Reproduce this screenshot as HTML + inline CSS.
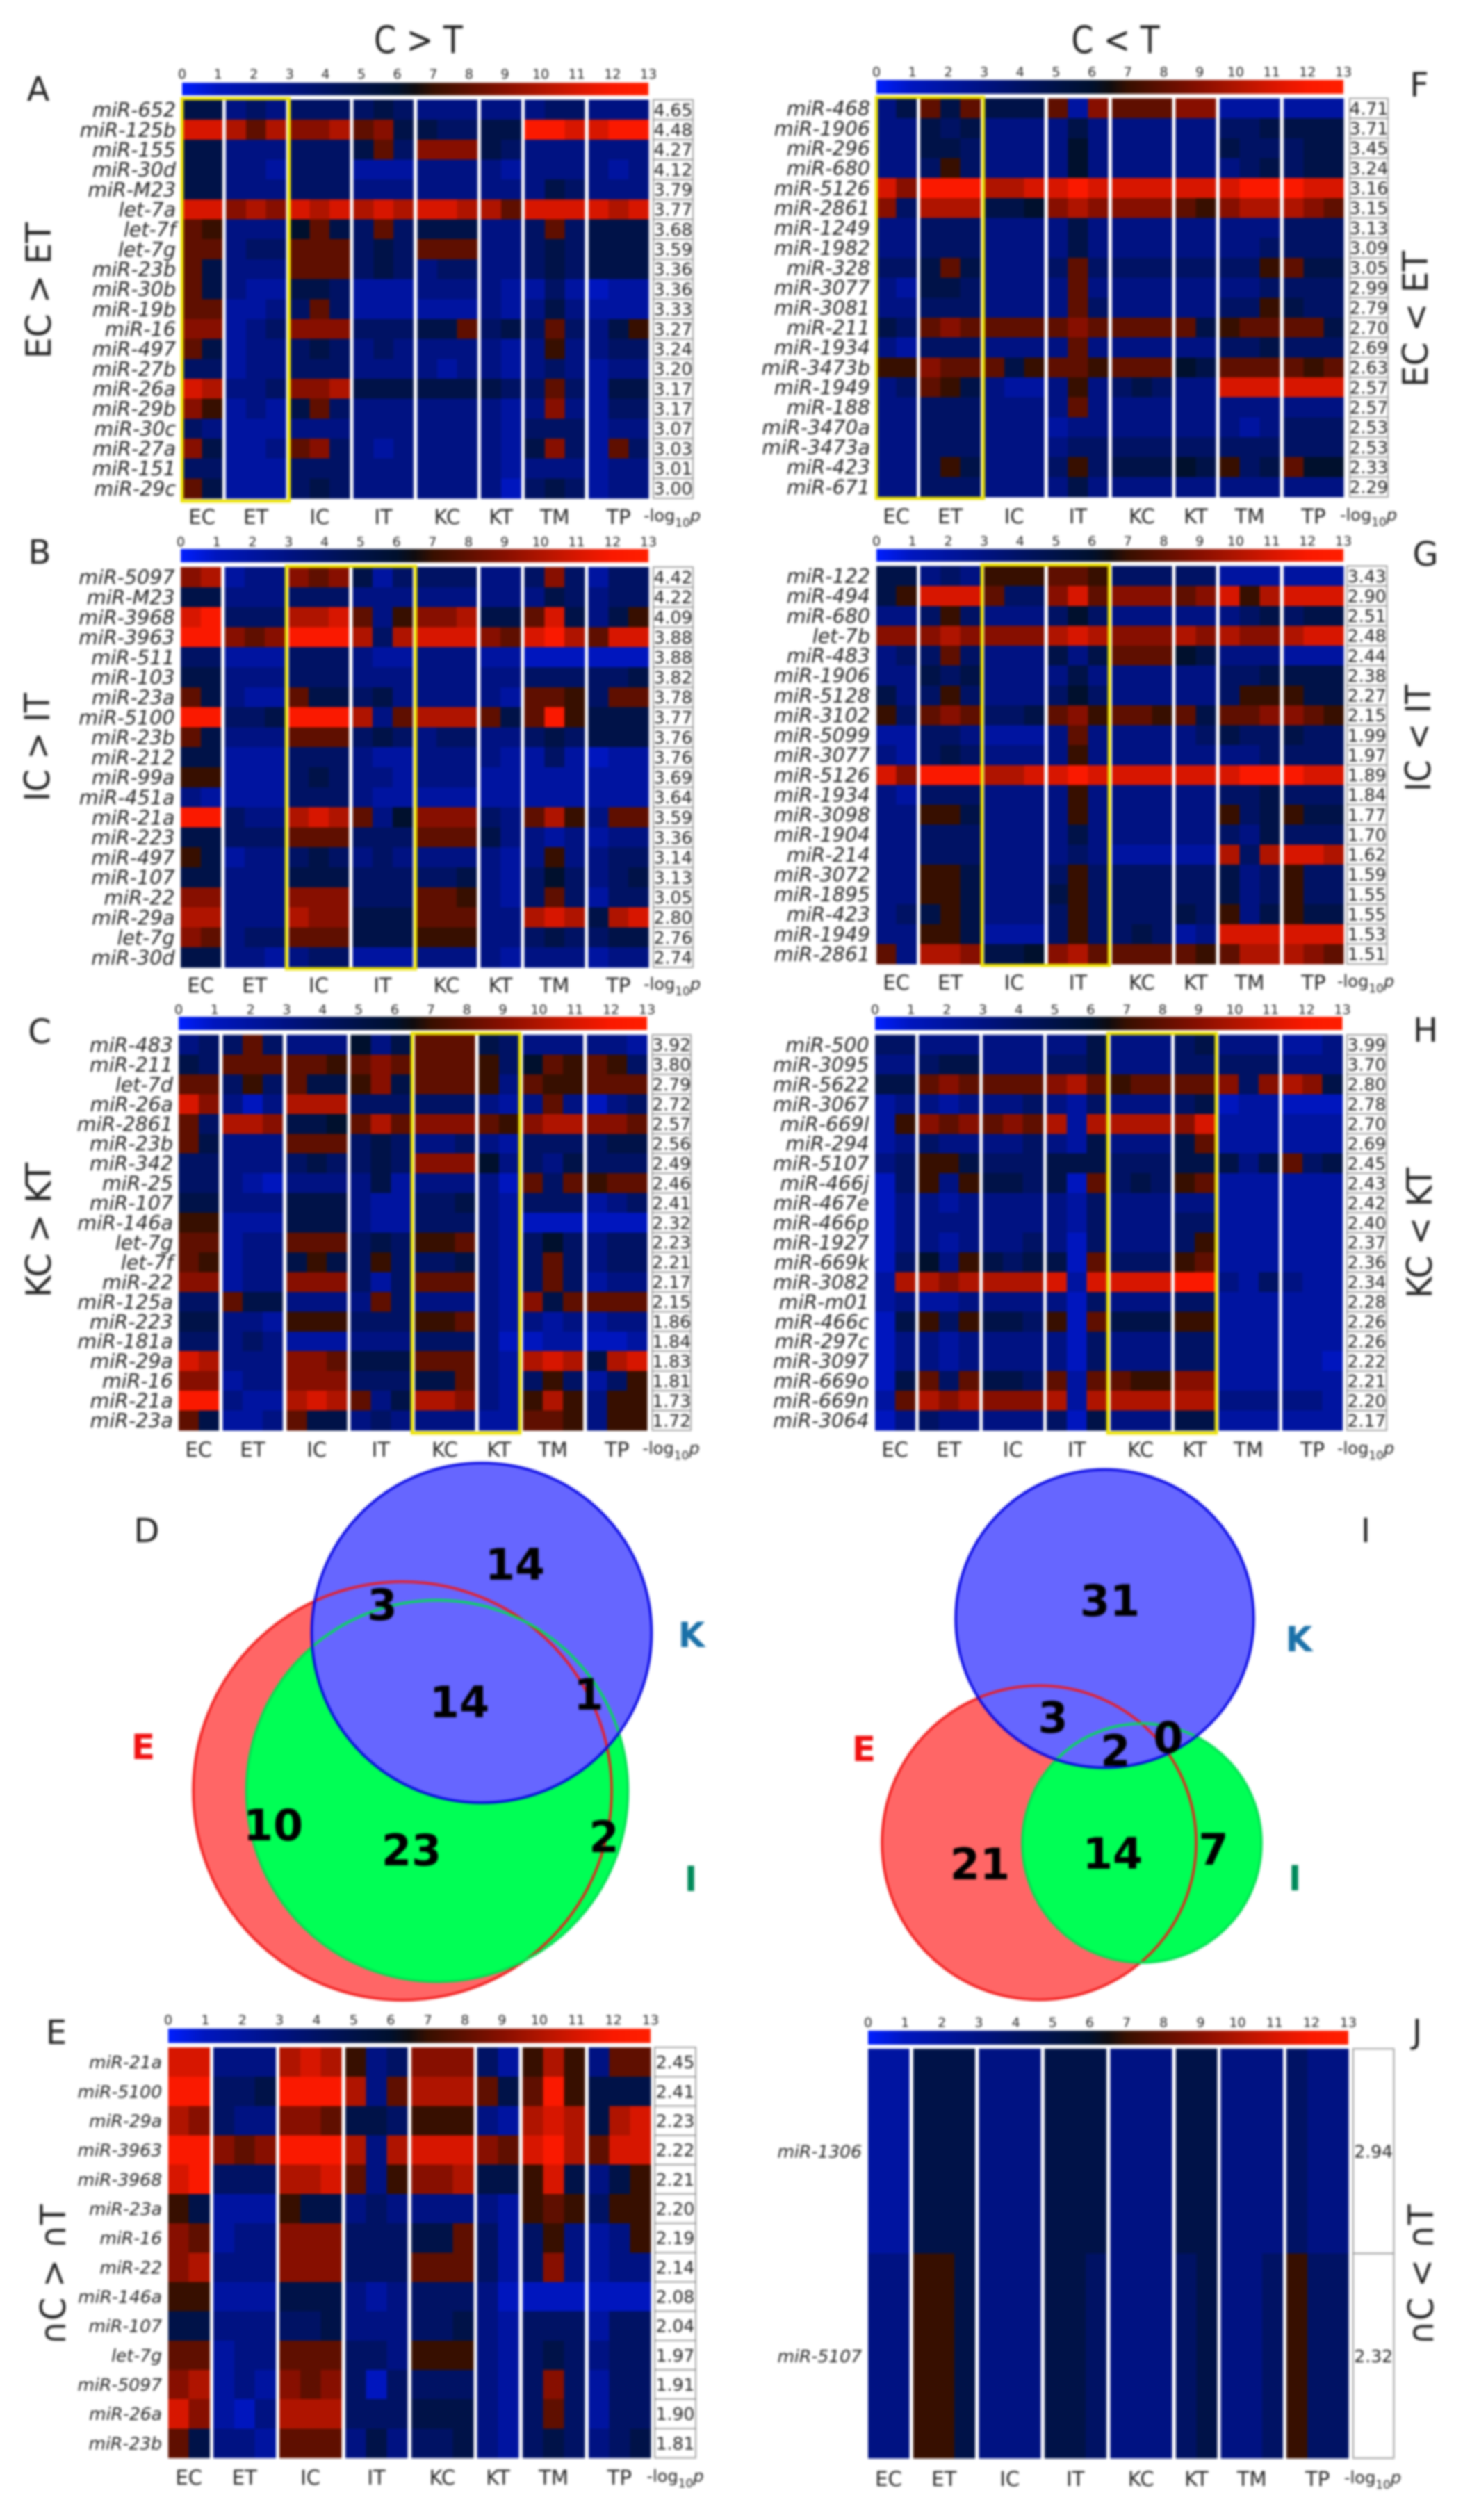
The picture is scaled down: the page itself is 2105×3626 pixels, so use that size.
<!DOCTYPE html>
<html lang="en">
<head>
<meta charset="utf-8">
<title>miRNA heatmaps and Venn diagrams</title>
<style>
html,body{margin:0;padding:0;background:#fff;}
#figure{display:block;filter:blur(1.6px);}
text{font-family:"DejaVu Sans","Liberation Sans",sans-serif;fill:#222;}
</style>
</head>
<body>
<svg id="figure" xmlns="http://www.w3.org/2000/svg" width="2105" height="3626" viewBox="0 0 2105 3626">
<defs>
<linearGradient id="cbGrad" x1="0" y1="0" x2="1" y2="0"></linearGradient>
</defs>
<rect x="0" y="0" width="2105" height="3626" fill="#fff"/>
<text x="602" y="76" font-size="54" text-anchor="middle" textLength="128" lengthAdjust="spacingAndGlyphs">C &gt; T</text>
<text x="1605" y="76" font-size="54" text-anchor="middle" textLength="127" lengthAdjust="spacingAndGlyphs">C &lt; T</text>

<g font-size="48" text-anchor="middle">
<text x="55" y="145">A</text>
<text x="2042" y="139">F</text>
<text x="57" y="811">B</text>
<text x="2051" y="814">G</text>
<text x="57" y="1501">C</text>
<text x="2051" y="1499">H</text>
<text x="211" y="2219">D</text>
<text x="1965" y="2219">I</text>
<text x="81" y="2941">E</text>
<text x="2039" y="2940">J</text>
</g>

<g font-size="50" text-anchor="middle">
<text transform="translate(73,418) rotate(-90)" textLength="196" lengthAdjust="spacingAndGlyphs">EC &gt; ET</text>
<text transform="translate(2054,459) rotate(-90)" textLength="196" lengthAdjust="spacingAndGlyphs">EC &lt; ET</text>
<text transform="translate(71,1075) rotate(-90)" textLength="156" lengthAdjust="spacingAndGlyphs">IC &gt; IT</text>
<text transform="translate(2058,1062) rotate(-90)" textLength="154" lengthAdjust="spacingAndGlyphs">IC &lt; IT</text>
<text transform="translate(73,1770) rotate(-90)" textLength="194" lengthAdjust="spacingAndGlyphs">KC &gt; KT</text>
<text transform="translate(2060,1774) rotate(-90)" textLength="188" lengthAdjust="spacingAndGlyphs">KC &lt; KT</text>
<text transform="translate(94,3273) rotate(-90)" textLength="202" lengthAdjust="spacingAndGlyphs">∩C &gt; ∩T</text>
<text transform="translate(2062,3273) rotate(-90)" textLength="202" lengthAdjust="spacingAndGlyphs">∩C &lt; ∩T</text>
</g>

<g>
<circle cx="579" cy="2577" r="301" fill="#ff6666"/>
<circle cx="629" cy="2577" r="274.5" fill="#00ff55"/>
<circle cx="693" cy="2349.5" r="244.5" fill="#6666ff"/>
<circle cx="579" cy="2577" r="301" fill="none" stroke="#f01818" stroke-width="3.5"/>
<circle cx="629" cy="2577" r="274.5" fill="none" stroke="#00e050" stroke-width="3.5"/>
<circle cx="693" cy="2349.5" r="244.5" fill="none" stroke="#0000e0" stroke-width="3.5"/>
<g font-size="62" font-weight="bold" text-anchor="middle">
<text x="741" y="2273" style="fill:#000">14</text>
<text x="550" y="2331" style="fill:#000">3</text>
<text x="661" y="2471" style="fill:#000">14</text>
<text x="847" y="2460" style="fill:#000">1</text>
<text x="393" y="2648" style="fill:#000">10</text>
<text x="592" y="2684" style="fill:#000">23</text>
<text x="869" y="2665" style="fill:#000">2</text>
</g>
<g font-size="50" font-weight="bold" text-anchor="middle">
<text x="206" y="2531" style="fill:#f01010">E</text>
<text x="995" y="2370" style="fill:#1a70a8">K</text>
<text x="994" y="2721" style="fill:#008a5a">I</text>
</g>
</g>

<g>
<circle cx="1495" cy="2651.5" r="226" fill="#ff6666"/>
<circle cx="1643" cy="2652" r="172" fill="#00ff55"/>
<circle cx="1589.5" cy="2329" r="214.5" fill="#6666ff"/>
<circle cx="1495" cy="2651.5" r="226" fill="none" stroke="#f01818" stroke-width="3.5"/>
<circle cx="1643" cy="2652" r="172" fill="none" stroke="#00e050" stroke-width="3.5"/>
<circle cx="1589.5" cy="2329" r="214.5" fill="none" stroke="#0000e0" stroke-width="3.5"/>
<g font-size="62" font-weight="bold" text-anchor="middle">
<text x="1597" y="2325" style="fill:#000">31</text>
<text x="1515" y="2493" style="fill:#000">3</text>
<text x="1605" y="2541" style="fill:#000">2</text>
<text x="1681" y="2522" style="fill:#000">0</text>
<text x="1410" y="2704" style="fill:#000">21</text>
<text x="1601" y="2689" style="fill:#000">14</text>
<text x="1746" y="2683" style="fill:#000">7</text>
</g>
<g font-size="50" font-weight="bold" text-anchor="middle">
<text x="1243" y="2534" style="fill:#f01010">E</text>
<text x="1869" y="2376" style="fill:#1a70a8">K</text>
<text x="1863" y="2720" style="fill:#008a5a">I</text>
</g>
</g>
<g id="heatmaps"></g>
</svg>

<script>
// ---- shared categories and tick labels ----
const groupNames = ["EC","ET","IC","IT","KC","KT","TM","TP"];
const groupSizes = [2,3,3,3,3,2,3,3];
const colorbarTicks = [0,1,2,3,4,5,6,7,8,9,10,11,12,13];

// ---- Panel A: EC > ET ----
const panelALabels = ["miR-652","miR-125b","miR-155","miR-30d","miR-M23","let-7a","let-7f","let-7g","miR-23b","miR-30b","miR-19b","miR-16","miR-497","miR-27b","miR-26a","miR-29b","miR-30c","miR-27a","miR-151","miR-29c"];
const panelAPvalues = ["4.65","4.48","4.27","4.12","3.79","3.77","3.68","3.59","3.36","3.36","3.33","3.27","3.24","3.20","3.17","3.17","3.07","3.03","3.01","3.00"];
const panelAValues = [
[5,5,3,4,3,4,4,4,4,5,4,3,3,3,3,3,3,4,4,3,3,3],
[11,11,10,8,10,9,9,10,8,9,5,5,4,4,5,5,12,12,11,11,12,12],
[5,5,3,3,3,4,4,4,5,8,4,9,9,9,5,4,3,3,3,3,3,3],
[5,5,3,3,2,4,4,4,2,2,2,3,3,3,3,2,3,3,3,3,2,3],
[5,5,3,3,3,4,4,4,3,3,3,3,3,3,3,3,3,5,4,3,3,3],
[11,11,9,10,9,11,10,11,10,11,10,11,11,10,10,8,11,11,11,11,10,11],
[8,7,3,3,3,6,8,5,4,8,4,5,5,5,3,3,4,8,4,5,5,5],
[8,8,3,4,4,8,8,8,4,5,4,8,8,8,3,3,4,5,4,5,5,5],
[8,5,3,3,3,8,8,8,4,5,4,3,4,4,3,3,4,5,4,5,5,5],
[8,5,3,2,2,5,5,4,2,2,2,3,3,3,3,2,2,4,2,1,2,2],
[8,8,2,2,3,4,8,4,2,2,2,2,2,2,3,2,3,5,3,2,2,2],
[9,9,2,3,4,9,9,9,4,4,4,5,5,8,4,5,4,8,4,3,5,7],
[8,5,2,3,3,4,5,4,3,4,3,3,3,3,3,2,3,7,3,3,4,4],
[4,4,2,3,3,4,4,4,3,3,3,3,2,3,3,2,3,4,3,2,3,3],
[11,10,3,3,4,9,9,10,5,5,5,5,5,5,5,4,4,8,4,2,5,5],
[9,7,2,3,2,5,8,4,3,3,3,3,3,3,3,2,3,9,3,2,4,4],
[4,3,2,2,2,3,3,3,3,3,3,3,3,3,3,2,4,4,4,2,3,3],
[9,5,2,2,3,8,9,4,3,2,3,3,3,3,3,2,5,9,4,2,8,4],
[4,4,2,2,2,4,4,4,3,3,3,3,3,3,3,2,3,3,3,2,3,3],
[8,5,2,2,2,4,5,4,3,3,3,3,3,3,3,1,4,5,4,2,3,3]
];

// ---- Panel B: IC > IT ----
const panelBLabels = ["miR-5097","miR-M23","miR-3968","miR-3963","miR-511","miR-103","miR-23a","miR-5100","miR-23b","miR-212","miR-99a","miR-451a","miR-21a","miR-223","miR-497","miR-107","miR-22","miR-29a","let-7g","miR-30d"];
const panelBPvalues = ["4.42","4.22","4.09","3.88","3.88","3.82","3.78","3.77","3.76","3.76","3.69","3.64","3.59","3.36","3.14","3.13","3.05","2.80","2.76","2.74"];
const panelBValues = [
[9,10,2,3,3,9,8,9,5,2,4,4,4,4,3,3,4,9,4,2,4,4],
[5,5,3,3,3,4,4,4,3,3,3,3,3,3,3,3,3,5,4,3,4,4],
[11,12,4,4,4,10,10,11,8,3,7,9,9,10,5,5,8,11,5,3,5,7],
[12,12,9,8,9,12,12,12,10,4,10,11,11,11,9,8,11,12,10,8,11,11],
[4,4,2,2,2,4,4,4,3,2,2,3,3,3,2,2,1,1,1,1,1,1],
[5,5,3,3,3,4,4,4,3,3,3,3,3,3,3,3,4,4,4,4,4,5],
[8,5,3,2,2,8,5,5,4,5,3,3,3,3,3,2,8,8,7,4,8,8],
[12,12,4,4,5,12,12,12,10,3,8,10,10,10,8,5,8,12,7,5,5,5],
[8,5,3,3,3,8,8,8,4,5,4,3,4,4,3,3,4,5,4,5,5,5],
[5,5,2,2,2,4,4,4,3,2,2,3,3,3,3,2,2,4,2,1,2,2],
[7,7,2,2,2,4,5,4,3,3,2,3,3,3,2,2,2,2,2,2,2,2],
[3,2,2,2,2,4,4,4,3,2,2,2,2,2,2,2,2,2,2,2,2,2],
[12,12,4,3,3,10,11,10,8,3,6,9,9,9,4,3,8,10,7,3,8,8],
[5,5,4,4,4,8,8,8,4,4,4,8,8,8,5,3,3,2,3,2,3,3],
[7,5,2,3,3,4,5,4,3,4,3,3,3,3,3,2,3,7,3,3,4,4],
[5,5,3,3,3,5,5,5,4,4,4,4,4,5,3,2,4,6,4,3,4,5],
[9,9,3,3,3,9,9,9,4,4,4,8,8,7,3,2,4,8,4,2,4,4],
[10,10,3,3,3,10,9,9,5,5,5,8,8,8,3,3,10,11,10,5,10,11],
[9,8,3,4,4,8,8,8,5,5,5,7,7,7,3,3,4,5,4,4,5,5],
[5,5,3,3,2,3,4,4,2,2,2,3,3,3,3,2,3,3,3,2,3,3]
];

// ---- Panel C: KC > KT ----
const panelCLabels = ["miR-483","miR-211","let-7d","miR-26a","miR-2861","miR-23b","miR-342","miR-25","miR-107","miR-146a","let-7g","let-7f","miR-22","miR-125a","miR-223","miR-181a","miR-29a","miR-16","miR-21a","miR-23a"];
const panelCPvalues = ["3.92","3.80","2.79","2.72","2.57","2.56","2.49","2.46","2.41","2.32","2.23","2.21","2.17","2.15","1.86","1.84","1.83","1.81","1.73","1.72"];
const panelCValues = [
[3,4,4,8,4,3,3,3,6,3,5,8,8,8,5,4,3,3,3,3,3,2],
[5,4,8,8,8,8,8,7,8,9,8,8,8,8,7,4,6,8,7,8,7,4],
[8,8,4,7,4,8,5,5,7,9,5,8,8,8,7,3,8,7,7,8,8,8],
[11,9,3,1,3,10,10,10,4,4,4,4,4,4,3,2,3,8,3,1,3,4],
[8,4,10,10,9,5,5,6,8,10,8,9,9,9,8,7,9,10,10,9,9,8],
[8,5,3,3,3,8,8,8,4,5,4,3,3,4,3,2,4,4,4,4,5,5],
[4,4,3,3,3,4,5,4,4,5,4,9,9,9,6,3,4,3,5,4,4,4],
[4,4,3,2,1,3,3,3,3,5,2,3,3,3,3,1,8,4,8,7,8,8],
[5,5,3,3,3,5,5,5,3,2,2,4,4,5,3,2,4,4,4,2,3,4],
[7,7,2,2,2,5,5,5,3,2,2,4,4,4,3,2,1,1,1,1,1,1],
[8,8,2,3,3,8,8,8,4,5,4,7,7,8,3,2,4,6,4,3,4,4],
[8,7,2,3,3,5,7,5,4,7,4,4,4,5,3,2,4,8,4,3,4,4],
[9,9,2,3,3,9,9,9,4,2,4,8,8,8,3,2,4,8,4,2,3,3],
[4,4,8,5,5,3,3,3,3,8,4,3,3,3,3,2,9,5,8,8,8,8],
[5,5,3,3,2,7,7,7,4,4,4,7,7,8,3,2,3,2,3,2,3,3],
[4,4,3,4,3,2,2,2,3,3,3,4,4,4,3,1,1,2,2,1,1,2],
[11,10,3,3,3,9,9,8,5,5,5,8,8,8,3,2,10,11,10,5,10,11],
[9,9,2,3,3,9,9,9,4,4,4,5,5,8,3,2,4,7,4,2,4,7],
[12,12,3,2,2,10,11,10,8,3,5,10,10,9,3,2,7,10,7,3,7,7],
[8,5,2,2,3,8,5,5,3,4,3,3,3,3,2,2,8,8,7,3,7,7]
];

// ---- Panel F: EC < ET ----
const panelFLabels = ["miR-468","miR-1906","miR-296","miR-680","miR-5126","miR-2861","miR-1249","miR-1982","miR-328","miR-3077","miR-3081","miR-211","miR-1934","miR-3473b","miR-1949","miR-188","miR-3470a","miR-3473a","miR-423","miR-671"];
const panelFPvalues = ["4.71","3.71","3.45","3.24","3.16","3.15","3.13","3.09","3.05","2.99","2.79","2.70","2.69","2.63","2.57","2.57","2.53","2.53","2.33","2.29"];
const panelFValues = [
[3,5,8,5,8,5,5,5,8,2,9,8,8,8,9,9,2,2,2,2,2,2],
[3,3,5,4,5,3,3,3,3,5,3,3,3,3,3,3,4,4,5,5,5,5],
[3,3,5,5,4,3,3,3,3,6,3,3,3,3,3,3,5,4,4,4,5,5],
[3,3,4,7,4,3,3,3,3,6,3,3,3,3,3,3,3,4,5,4,5,5],
[11,9,12,12,12,10,10,11,11,12,11,11,11,11,11,11,11,12,12,12,11,11],
[9,4,10,10,10,5,5,6,9,10,9,9,9,9,8,7,9,10,10,10,9,8],
[3,3,4,4,4,3,3,3,3,5,3,3,3,3,3,3,3,3,3,4,4,4],
[3,3,4,4,4,3,3,3,3,5,3,3,3,3,3,3,3,3,4,4,4,4],
[4,4,5,8,5,3,3,3,4,8,4,4,4,4,4,4,4,4,7,8,5,5],
[3,2,5,5,4,3,3,3,3,8,3,3,3,3,3,3,3,3,4,4,4,4],
[3,3,4,4,4,3,3,3,3,8,4,3,3,3,3,3,4,4,7,5,4,4],
[5,4,8,9,8,8,8,8,8,9,8,8,8,8,8,5,7,8,8,8,8,5],
[3,2,4,4,4,3,3,3,3,8,3,3,3,3,3,3,4,4,5,4,4,4],
[7,7,9,8,8,8,5,7,8,8,7,8,8,8,6,5,8,8,8,8,7,8],
[3,4,8,7,5,3,2,2,3,7,3,4,5,4,3,3,11,11,11,11,11,11],
[3,3,4,4,4,3,3,3,3,8,3,3,3,3,3,3,3,3,3,3,3,3],
[3,3,4,4,4,3,3,3,2,3,3,3,3,3,3,3,3,2,3,4,4,4],
[3,3,4,4,4,3,3,3,3,4,4,4,4,4,4,4,4,4,4,4,4,4],
[3,3,4,7,5,3,3,3,4,7,4,5,5,5,6,5,7,4,5,8,6,6],
[3,3,4,4,4,3,3,3,3,5,3,3,3,3,3,3,3,3,3,3,3,3]
];

// ---- Panel G: IC < IT ----
const panelGLabels = ["miR-122","miR-494","miR-680","let-7b","miR-483","miR-1906","miR-5128","miR-3102","miR-5099","miR-3077","miR-5126","miR-1934","miR-3098","miR-1904","miR-214","miR-3072","miR-1895","miR-423","miR-1949","miR-2861"];
const panelGPvalues = ["3.43","2.90","2.51","2.48","2.44","2.38","2.27","2.15","1.99","1.97","1.89","1.84","1.77","1.70","1.62","1.59","1.55","1.55","1.53","1.51"];
const panelGValues = [
[5,5,3,4,3,7,7,7,8,8,7,4,4,4,4,4,2,2,2,2,2,2],
[5,7,11,11,11,8,4,4,9,11,8,9,9,9,8,9,11,7,10,11,11,11],
[3,3,4,7,4,3,3,3,4,6,4,3,3,3,3,3,3,4,5,4,5,5],
[9,9,9,10,9,9,9,9,10,11,10,9,9,9,10,9,10,9,9,10,11,11],
[3,4,4,8,4,3,3,3,5,3,5,8,8,8,6,5,3,3,3,2,2,2],
[3,3,5,4,5,3,3,3,3,5,3,3,3,3,3,3,4,4,5,5,5,5],
[5,3,4,7,4,3,3,3,4,6,4,3,3,3,3,3,4,7,7,7,5,5],
[7,4,8,9,8,4,4,5,8,9,7,8,8,7,8,5,8,8,9,9,8,7],
[2,2,4,4,3,2,2,2,3,8,3,3,3,3,3,4,5,4,4,5,4,4],
[3,2,4,5,4,3,3,3,3,7,3,3,3,3,3,3,3,3,4,4,4,4],
[11,9,12,12,12,10,10,11,11,12,11,11,11,11,11,11,11,12,12,12,11,11],
[3,2,4,4,4,3,3,3,3,7,3,3,3,3,3,3,4,4,5,4,4,4],
[3,3,7,7,5,3,3,3,3,7,3,3,3,3,3,3,7,4,5,7,5,5],
[3,3,4,4,4,3,3,3,3,5,3,3,3,3,3,3,4,3,5,4,4,4],
[3,3,4,4,4,3,3,3,3,4,3,2,2,2,2,2,10,4,10,11,11,10],
[3,3,7,7,5,3,3,3,4,7,4,4,4,4,4,4,5,3,4,7,4,4],
[3,3,7,7,5,3,3,3,5,7,4,4,4,4,4,4,5,3,4,7,4,4],
[3,4,5,7,5,3,3,3,4,7,4,4,4,4,5,4,7,3,5,7,5,5],
[3,3,7,7,5,2,2,2,4,7,4,4,5,4,2,3,11,11,11,11,11,11],
[8,3,10,10,9,5,5,6,9,10,8,8,8,8,8,7,8,10,10,10,9,8]
];

// ---- Panel H: KC < KT ----
const panelHLabels = ["miR-500","miR-3095","miR-5622","miR-3067","miR-669l","miR-294","miR-5107","miR-466j","miR-467e","miR-466p","miR-1927","miR-669k","miR-3082","miR-m01","miR-466c","miR-297c","miR-3097","miR-669o","miR-669n","miR-3064"];
const panelHPvalues = ["3.99","3.70","2.80","2.78","2.70","2.69","2.45","2.43","2.42","2.40","2.37","2.36","2.34","2.28","2.26","2.26","2.22","2.21","2.20","2.17"];
const panelHValues = [
[4,4,3,3,3,3,3,3,3,3,5,3,3,3,4,5,3,3,3,2,2,3],
[3,3,4,5,5,3,3,3,4,4,5,3,3,3,4,4,4,4,4,3,3,3],
[5,5,8,9,8,8,8,8,9,10,8,7,8,8,8,8,9,4,9,10,9,5],
[2,3,3,2,3,3,3,4,3,2,4,3,3,3,4,5,1,2,2,1,1,1],
[2,7,9,8,9,8,9,8,10,2,10,10,10,10,9,11,2,2,2,2,2,2],
[2,3,4,3,3,3,3,4,3,2,5,3,3,3,5,8,2,2,2,2,2,2],
[3,4,7,7,5,4,4,4,5,5,5,4,4,4,5,5,5,3,5,8,4,5],
[1,4,7,3,7,5,5,4,5,1,8,4,5,4,7,8,2,2,2,2,2,2],
[1,3,3,2,3,3,3,3,3,2,4,3,3,3,3,3,2,2,2,2,2,2],
[1,3,3,3,3,3,3,3,3,2,4,3,3,3,4,4,2,2,2,2,2,2],
[1,3,3,2,3,3,3,4,3,1,4,3,3,3,4,7,2,2,2,2,2,2],
[1,4,6,3,7,5,4,5,5,1,8,4,4,4,7,8,2,2,2,2,2,2],
[2,10,10,9,10,10,10,10,11,2,11,11,11,11,12,12,3,2,4,3,2,2],
[2,3,2,2,3,3,3,3,3,1,4,3,3,3,4,4,2,2,2,2,2,2],
[1,5,7,4,7,5,5,4,7,1,8,5,5,5,7,7,2,2,2,2,2,2],
[1,3,3,2,3,3,3,3,3,1,4,3,3,3,4,4,2,2,2,2,2,2],
[1,3,3,2,3,3,3,3,3,1,4,3,3,3,4,4,2,2,2,2,2,1],
[1,5,8,4,8,5,5,4,8,2,8,8,7,7,9,9,2,2,2,2,2,2],
[2,8,10,9,10,9,9,9,10,2,10,10,10,10,10,10,3,3,3,3,3,2],
[1,3,4,3,3,3,3,3,4,1,5,3,3,3,5,5,2,2,2,2,2,2]
];

// ---- Panel E: intersection C > intersection T ----
const panelELabels = ["miR-21a","miR-5100","miR-29a","miR-3963","miR-3968","miR-23a","miR-16","miR-22","miR-146a","miR-107","let-7g","miR-5097","miR-26a","miR-23b"];
const panelEPvalues = ["2.45","2.41","2.23","2.22","2.21","2.20","2.19","2.14","2.08","2.04","1.97","1.91","1.90","1.81"];
const panelEValues = [
[11,11,3,3,3,10,11,10,7,3,4,9,9,9,4,2,7,10,7,3,8,8],
[12,12,4,4,5,12,12,12,10,3,8,10,10,10,8,5,8,12,7,5,5,5],
[10,9,4,3,3,9,9,8,5,5,4,7,7,7,3,2,10,11,10,5,10,11],
[12,12,9,8,9,12,12,12,10,3,10,11,11,11,9,8,11,12,10,8,11,11],
[11,12,4,4,4,10,10,11,8,3,7,9,9,10,5,5,7,11,5,3,5,7],
[7,5,2,2,2,7,5,5,3,4,3,3,3,3,3,2,7,8,7,4,7,7],
[9,8,2,3,3,9,9,9,4,4,4,5,5,8,4,2,4,7,3,2,3,7],
[9,10,3,3,3,9,9,9,4,4,4,8,8,8,4,2,4,9,3,2,3,3],
[7,7,2,2,2,5,5,5,3,2,3,4,4,4,3,1,1,1,1,1,1,1],
[5,5,3,3,3,4,4,5,3,3,3,4,4,5,3,2,4,4,4,2,4,4],
[8,8,2,3,3,8,8,8,4,4,3,7,7,7,3,2,4,5,4,3,4,4],
[9,10,2,3,2,9,8,9,4,1,4,4,4,4,3,2,4,9,4,2,4,4],
[11,9,2,1,3,10,10,10,4,4,4,5,5,5,3,2,4,8,4,2,4,4],
[8,5,3,3,2,8,8,8,3,5,3,4,4,5,3,2,4,5,4,3,4,5]
];

// ---- Panel J: intersection C < intersection T ----
const panelJLabels = ["miR-1306","miR-5107"];
const panelJPvalues = ["2.94","2.32"];
const panelJValues = [
[2,2,5,5,5,3,3,3,5,5,5,3,3,3,5,5,3,3,3,4,3,3],
[3,3,7,7,5,3,3,3,5,5,4,3,3,3,4,5,3,3,4,7,4,4]
];

// ---- layout (geometry only) ----
const layouts = [
 {name:"panel-a",labels:panelALabels,pvals:panelAPvalues,matrix:panelAValues,x0:262,x1:933,y0:143.5,y1:717,cbY:119,cbH:18,tickY:106,labelX:253,valA:940,valB:997,groupY:744,logX:967,fs:28.5,box:[262,142,154,579]},
 {name:"panel-f",labels:panelFLabels,pvals:panelFPvalues,matrix:panelFValues,x0:1261,x1:1933,y0:141.5,y1:715,cbY:115,cbH:20,tickY:103,labelX:1252,valA:1942,valB:1997,groupY:743,logX:1969,fs:28.5,box:[1261,140,154,577]},
 {name:"panel-b",labels:panelBLabels,pvals:panelBPvalues,matrix:panelBValues,x0:260,x1:933,y0:816,y1:1392,cbY:790,cbH:19,tickY:779,labelX:251.5,valA:940,valB:997,groupY:1418,logX:967,fs:28.5,box:[412,815,186,579]},
 {name:"panel-g",labels:panelGLabels,pvals:panelGPvalues,matrix:panelGValues,x0:1261,x1:1933,y0:814.5,y1:1387,cbY:790,cbH:18,tickY:778,labelX:1252,valA:1938,valB:1995.5,groupY:1414,logX:1965,fs:28.5,box:[1413,813,183,576]},
 {name:"panel-c",labels:panelCLabels,pvals:panelCPvalues,matrix:panelCValues,x0:257,x1:931,y0:1489,y1:2058,cbY:1463,cbH:19,tickY:1452,labelX:249,valA:938.5,valB:994,groupY:2086,logX:965.5,fs:28.5,box:[593,1487,155,575]},
 {name:"panel-h",labels:panelHLabels,pvals:panelHPvalues,matrix:panelHValues,x0:1259,x1:1931.5,y0:1489,y1:2058,cbY:1463,cbH:19,tickY:1452,labelX:1250.5,valA:1938,valB:1995,groupY:2086,logX:1965,fs:28.5,box:[1594,1487,156,575]},
 {name:"panel-e",labels:panelELabels,pvals:panelEPvalues,matrix:panelEValues,x0:242,x1:936,y0:2946,y1:3536.5,cbY:2919,cbH:20.5,tickY:2906,labelX:233,valA:942,valB:1001,groupY:3565,logX:971.5,fs:25,box:null},
 {name:"panel-j",labels:panelJLabels,pvals:panelJPvalues,matrix:panelJValues,x0:1249,x1:1940,y0:2948,y1:3537,cbY:2922,cbH:20,tickY:2909.5,labelX:1240,valA:1947,valB:2005.5,groupY:3567,logX:1975,fs:25,box:null}
];

// ---- colour scale ----
const colorStops = [
 [0,[0,30,255]],[1,[0,22,190]],[2,[0,20,160]],[3,[0,18,130]],[4,[0,18,100]],[5,[0,18,72]],[6,[0,16,45]],
 [6.5,[15,12,15]],[7,[55,15,0]],[8,[95,15,0]],[9,[135,15,0]],[10,[175,20,0]],[11,[215,22,0]],[12,[250,25,0]],[13,[255,30,0]]
];
function colorOf(v){
  for(let i=1;i<colorStops.length;i++){
    if(v<=colorStops[i][0]){
      const a=colorStops[i-1],b=colorStops[i],t=(v-a[0])/(b[0]-a[0]);
      const c=a[1].map((n,k)=>Math.round(n+(b[1][k]-n)*Math.max(0,t)));
      return "rgb("+c.join(",")+")";
    }
  }
  return "rgb(255,30,0)";
}

const NS="http://www.w3.org/2000/svg";
function make(tag,attrs,parent,txt){
  const el=document.createElementNS(NS,tag);
  for(const k in attrs){el.setAttribute(k,attrs[k]);}
  if(txt!==undefined){el.textContent=txt;}
  parent.appendChild(el);
  return el;
}

// colorbar gradient
const grad=document.getElementById("cbGrad");
for(let i=0;i<=52;i++){
  const v=i/4;
  make("stop",{offset:(v/13*100)+"%","stop-color":colorOf(v)},grad);
}

const GAP=5.7;
const totalCols=groupSizes.reduce((a,b)=>a+b,0);
function colWidth(L){return (L.x1-L.x0-GAP*(groupSizes.length-1))/totalCols;}
function groupOfCol(c){
  let n=0;
  for(let g=0;g<groupSizes.length;g++){n+=groupSizes[g];if(c<n){return g;}}
  return groupSizes.length-1;
}
function xScale(L,c){return L.x0+c*colWidth(L)+groupOfCol(c)*GAP;}
function yScale(L,r){return L.y0+r*(L.y1-L.y0)/L.labels.length;}
function tickScale(L,t){return L.x0+(t/13)*(L.x1-L.x0);}

const root=document.getElementById("heatmaps");
layouts.forEach(function(L){
  const g=make("g",{},root);
  
  

  const cb=make("rect",{x:L.x0,y:L.cbY,width:L.x1-L.x0,height:L.cbH,fill:"url(#cbGrad)"},g);
  
  

  colorbarTicks.forEach(function(t){
    const tick=make("text",{x:tickScale(L,t),y:L.tickY+7,"font-size":19,"text-anchor":"middle"},g,String(t));
    
    
  });

  const rowH=(L.y1-L.y0)/L.labels.length;
  const w=colWidth(L);
  L.matrix.forEach(function(row,r){
    row.forEach(function(v,c){
      const cell=make("rect",{x:xScale(L,c),y:yScale(L,r),width:w+0.4,height:rowH+0.4,fill:colorOf(v),"shape-rendering":"crispEdges"},g);
      
      
    });
  });

  L.labels.forEach(function(name,r){
    const lab=make("text",{x:L.labelX,y:yScale(L,r)+rowH/2+L.fs*0.36,"font-size":L.fs,"font-style":"italic","text-anchor":"end"},g,name);
    
    
  });

  L.pvals.forEach(function(p,r){
    const bx=make("rect",{x:L.valA,y:yScale(L,r),width:L.valB-L.valA,height:rowH,fill:"#fff",stroke:"#888","stroke-width":1.6},g);
    
    
    const val=make("text",{x:(L.valA+L.valB)/2,y:yScale(L,r)+rowH/2+9,"font-size":25,"text-anchor":"middle"},g,p);
    
    
  });

  let start=0;
  groupNames.forEach(function(name,i){
    const endCol=start+groupSizes[i]-1;
    const cx=(xScale(L,start)+xScale(L,endCol)+w)/2;
    const gl=make("text",{x:cx,y:L.groupY+10,"font-size":29,"text-anchor":"middle"},g,name);
    
    
    start+=groupSizes[i];
  });

  const lg=make("text",{x:L.logX,y:L.groupY+6,"font-size":24,"text-anchor":"middle"},g);
  
  
  make("tspan",{},lg,"-log");
  make("tspan",{dy:8,"font-size":17},lg,"10");
  make("tspan",{dy:-8,"font-style":"italic"},lg,"p");

  if(L.box){
    const hl=make("rect",{x:L.box[0],y:L.box[1],width:L.box[2],height:L.box[3],fill:"none",stroke:"#ebe100","stroke-width":4.5},g);
    
    
  }
});
</script>
</body>
</html>
